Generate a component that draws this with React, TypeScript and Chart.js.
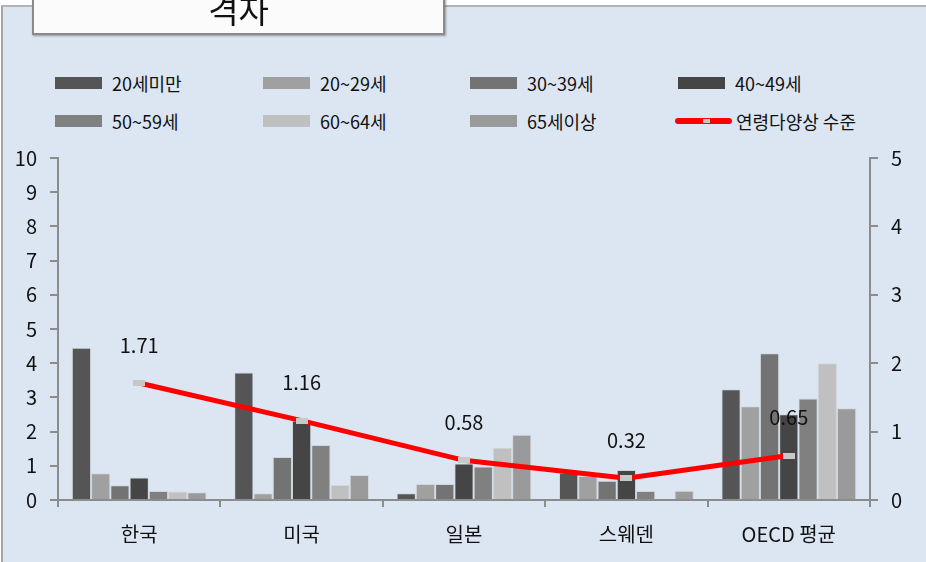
import React, { useEffect, useRef } from "react";
import { Chart, registerables } from "chart.js";

Chart.register(...registerables);

const categories = ["한국", "미국", "일본", "스웨덴", "OECD 평균"];
const under20 = [4.45, 3.73, 0.2, 0.8, 3.24];
const age20s = [0.78, 0.2, 0.47, 0.7, 2.74];
const age30s = [0.43, 1.26, 0.47, 0.56, 4.29];
const age40s = [0.66, 2.32, 1.07, 0.88, 2.51];
const age50s = [0.26, 1.61, 0.98, 0.26, 2.97];
const age60s = [0.25, 0.44, 1.53, null, 4.0];
const over65 = [0.23, 0.73, 1.91, 0.27, 2.68];
const diversity = [1.71, 1.16, 0.58, 0.32, 0.65];

const leftTicks = [0, 1, 2, 3, 4, 5, 6, 7, 8, 9, 10];
const rightTicks = [0, 1, 2, 3, 4, 5];

const barSeries = [
  { label: "20세미만", data: under20, color: "#555555" },
  { label: "20~29세", data: age20s, color: "#a0a0a0" },
  { label: "30~39세", data: age30s, color: "#737373" },
  { label: "40~49세", data: age40s, color: "#454545" },
  { label: "50~59세", data: age50s, color: "#808080" },
  { label: "60~64세", data: age60s, color: "#c0c0c0" },
  { label: "65세이상", data: over65, color: "#9a9a9a" },
];
const lineLabel = "연령다양상 수준";

const FONT = "'Noto Sans CJK KR', 'Noto Sans', sans-serif";
const AXIS = "#8c8c8c";

function makePointImage() {
  const c = document.createElement("canvas");
  c.width = 12;
  c.height = 6;
  const ctx = c.getContext("2d")!;
  ctx.fillStyle = "#c8c8c8";
  ctx.fillRect(0, 0, 12, 6);
  return c;
}

const labelPlugin = {
  id: "lineLabels",
  afterDatasetsDraw(chart: any) {
    const ctx = chart.ctx;
    chart.data.datasets.forEach((ds: any, i: number) => {
      if (ds.type !== "line") return;
      const meta = chart.getDatasetMeta(i);
      ctx.save();
      ctx.font = `20px ${FONT}`;
      ctx.fillStyle = "#111111";
      ctx.textAlign = "center";
      ctx.textBaseline = "middle";
      meta.data.forEach((el: any, j: number) => {
        ctx.fillText(ds.data[j].toFixed(2), el.x, el.y - 38);
      });
      ctx.restore();
    });
  },
};

export default function App() {
  const ref = useRef<HTMLCanvasElement>(null);

  useEffect(() => {
    const pointImg = makePointImage();
    const datasets: any[] = [
      {
        type: "line",
        label: lineLabel,
        data: diversity,
        yAxisID: "y2",
        borderColor: "#ff0000",
        borderWidth: 5,
        borderCapStyle: "round",
        tension: 0,
        pointStyle: pointImg,
        pointRadius: 6,
        order: 0,
      },
      ...barSeries.map((s) => ({
        type: "bar",
        label: s.label,
        data: s.data,
        backgroundColor: s.color,
        borderColor: "rgba(200,200,200,0.55)",
        borderWidth: 1,
        yAxisID: "y",
        categoryPercentage: 0.83,
        barPercentage: 1,
        order: 1,
      })),
    ];
    const chart = new Chart(ref.current!, {
      type: "bar",
      data: { labels: categories, datasets },
      plugins: [labelPlugin],
      options: {
        animation: false,
        responsive: false,
        devicePixelRatio: 1,
        layout: { padding: { top: 158, left: 0, right: 0, bottom: 0 } },
        plugins: {
          legend: { display: false },
          tooltip: { enabled: false },
          title: { display: false },
        },
        scales: {
          x: {
            grid: {
              offset: true,
              drawOnChartArea: false,
              drawTicks: true,
              tickLength: 7,
              color: AXIS,
              lineWidth: 2,
            },
            border: { color: AXIS, width: 2 },
            ticks: { font: { family: FONT, size: 20 }, color: "#111111", padding: 15 },
            afterFit: (s: any) => {
              s.height = 62;
            },
          },
          y: {
            position: "left",
            min: 0,
            max: 10,
            afterBuildTicks: (s: any) => {
              s.ticks = leftTicks.map((v) => ({ value: v }));
            },
            grid: {
              drawOnChartArea: false,
              drawTicks: true,
              tickLength: 8,
              color: AXIS,
              lineWidth: 2,
            },
            border: { color: AXIS, width: 2 },
            ticks: { font: { family: FONT, size: 20 }, color: "#111111", padding: 13 },
            afterFit: (s: any) => {
              s.width = 58;
            },
          },
          y2: {
            position: "right",
            min: 0,
            max: 5,
            afterBuildTicks: (s: any) => {
              s.ticks = rightTicks.map((v) => ({ value: v }));
            },
            grid: {
              drawOnChartArea: false,
              drawTicks: true,
              tickLength: 8,
              color: AXIS,
              lineWidth: 2,
            },
            border: { color: AXIS, width: 2 },
            ticks: { font: { family: FONT, size: 20 }, color: "#111111", padding: 13 },
            afterFit: (s: any) => {
              s.width = 56;
            },
          },
        },
      } as any,
    } as any);
    return () => chart.destroy();
  }, []);

  const legendItems: { label: string; color?: string; line?: boolean }[] = [
    ...barSeries.map((s) => ({ label: s.label, color: s.color })),
    { label: lineLabel, line: true },
  ];
  const colX = [55, 263, 470, 678];
  const rowY = [83, 121];

  return (
    <div
      style={{
        position: "absolute",
        left: 0,
        top: 0,
        width: 926,
        height: 562,
        overflow: "hidden",
        background: "#ffffff",
        fontFamily: FONT,
      }}
    >
      <div
        style={{
          position: "absolute",
          left: 1,
          top: 5,
          width: 940,
          height: 600,
          background: "#dce6f2",
          borderLeft: "2px solid #a6a6a6",
          borderTop: "2px solid #b4b4b4",
        }}
      />
      {legendItems.map((it, i) => {
        const x = colX[i % 4];
        const y = rowY[Math.floor(i / 4)];
        return (
          <div key={i}>
            {it.line ? (
              <div
                style={{
                  position: "absolute",
                  left: x - 3,
                  top: y - 3,
                  width: 57,
                  height: 6,
                  borderRadius: 3,
                  background: "#ff0000",
                }}
              >
                <div
                  style={{
                    position: "absolute",
                    left: 28,
                    top: 1,
                    width: 7,
                    height: 4,
                    background: "#c8c8c8",
                  }}
                />
              </div>
            ) : (
              <div
                style={{
                  position: "absolute",
                  left: x,
                  top: y - 6,
                  width: 47,
                  height: 12,
                  background: it.color,
                }}
              />
            )}
            <div
              style={{
                position: "absolute",
                left: x + (it.line ? 58 : 57),
                top: y - 13,
                fontSize: 18,
                lineHeight: "26px",
                color: "#111111",
                whiteSpace: "nowrap",
              }}
            >
              {it.label}
            </div>
          </div>
        );
      })}
      <canvas
        ref={ref}
        width={926}
        height={562}
        style={{ position: "absolute", left: 0, top: 0, width: 926, height: 562 }}
      />
      <div
        style={{
          position: "absolute",
          left: 32,
          top: -10,
          width: 409,
          height: 41,
          background: "#fbfbfb",
          border: "2px solid #8a8a8a",
          boxShadow: "1px 1px 2px rgba(0,0,0,0.35)",
          textAlign: "center",
          fontSize: 33,
          lineHeight: "34px",
          color: "#111111",
          overflow: "hidden",
        }}
      >
        격자
      </div>
    </div>
  );
}
